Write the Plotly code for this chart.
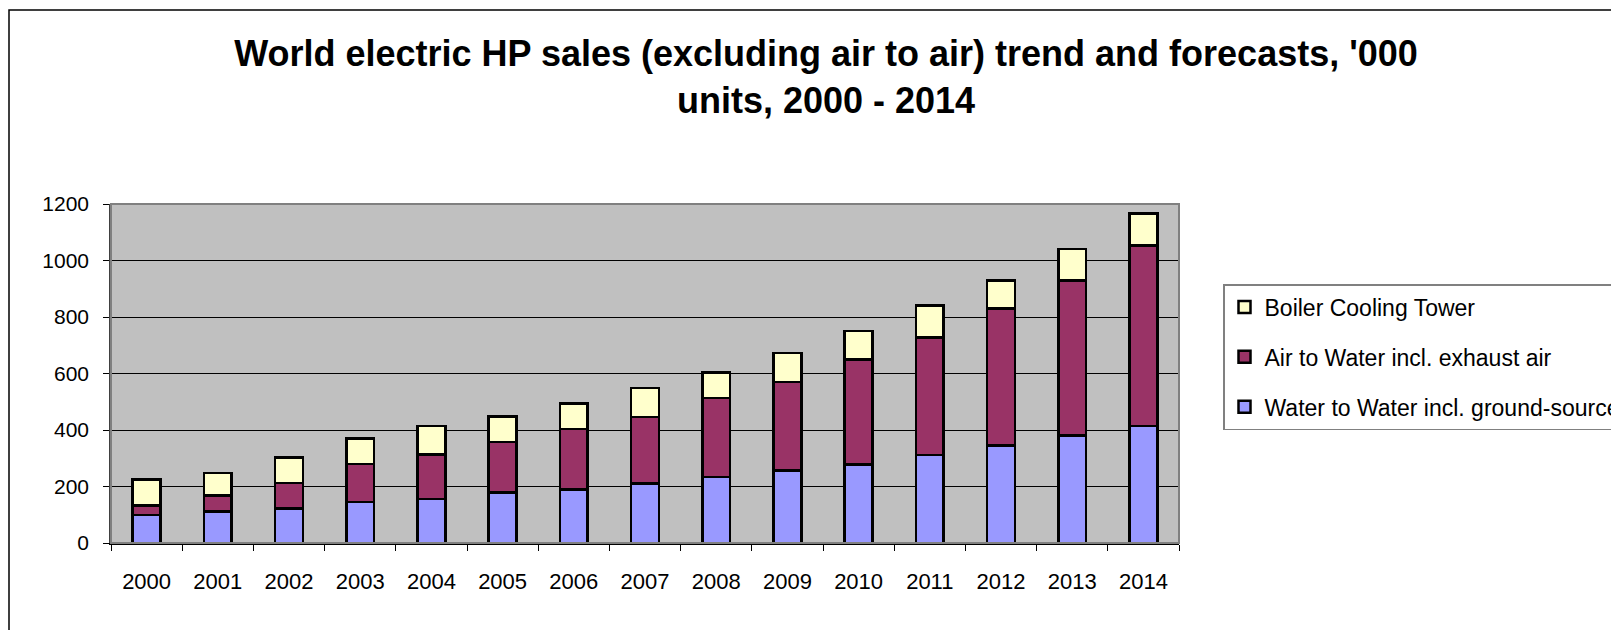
import plotly.graph_objects as go

years = [str(y) for y in range(2000, 2015)]

# '000 units
water_to_water = [100, 112, 122, 145, 156, 179, 189, 210, 234, 256, 278, 312, 346, 380, 414]
air_to_water = [32, 56, 90, 135, 157, 179, 215, 236, 279, 314, 371, 416, 484, 550, 639]
boiler_cooling = [92, 79, 91, 90, 101, 90, 89, 102, 91, 103, 101, 112, 100, 111, 113]

series = [
    ('Water to Water incl. ground-source', water_to_water, '#9999FF'),
    ('Air to Water incl. exhaust air', air_to_water, '#993366'),
    ('Boiler Cooling Tower', boiler_cooling, '#FFFFCC'),
]

W, H = 1619, 630
OFF = 8  # the page body adds an 8px margin around the figure
# plot area in figure pixels
left, right, top, bottom = 111 - OFF, 1179 - OFF, 204 - OFF, 543 - OFF
pw, ph = right - left, bottom - top

fig = go.Figure()
for i, (name, vals, color) in enumerate(series):
    fig.add_trace(go.Bar(
        x=years, y=vals, name=name, legendgroup=name,
        legendrank=len(series) - i,  # top of the stack first in the legend
        marker=dict(color=color, line=dict(color='black', width=2.5))
    ))

font = 'Arial, "Liberation Sans", sans-serif'

fig.update_layout(
    width=W, height=H,
    barmode='stack', bargap=0.61,
    paper_bgcolor='white', plot_bgcolor='#C0C0C0',
    margin=dict(l=left, r=W - right, t=top, b=H - bottom, autoexpand=False),
    font=dict(family=font, size=21, color='black'),
    title=dict(
        text="World electric HP sales (excluding air to air) trend and forecasts, '000<br>units, 2000 - 2014",
        x=(826 - OFF) / W, xref='container', xanchor='center',
        y=1 - 58 / H, yref='container', yanchor='middle',
        font=dict(family=font, size=36, color='black', weight='bold')
    ),
    legend=dict(
        x=(1223 - OFF - left) / pw, xanchor='left',
        y=(bottom - (284 - OFF)) / ph, yanchor='top',
        traceorder='grouped', tracegroupgap=17,
        bgcolor='white', bordercolor='#808080', borderwidth=1.5,
        font=dict(family=font, size=23, color='black')
    ),
    xaxis=dict(
        showgrid=False, showline=True, linecolor='black', linewidth=1.5,
        ticks='outside', tickson='boundaries', ticklen=6, tickcolor='black',
        ticklabelstandoff=18, tickfont=dict(size=22)
    ),
    yaxis=dict(
        range=[0, 1200], dtick=200, showgrid=True, gridcolor='black', gridwidth=1,
        showline=True, linecolor='#404040', linewidth=1.5,
        ticks='outside', ticklen=6, tickcolor='black', ticklabelstandoff=10,
        zeroline=False
    ),
    shapes=[
        # plot area frame
        dict(type='rect', xref='paper', yref='paper', x0=0, x1=1, y0=0, y1=1,
             line=dict(color='#808080', width=2)),
        # outer chart border, running off the right and bottom edges
        dict(type='rect', xref='paper', yref='paper',
             x0=(9 - OFF - left) / pw, x1=(W + 20 - left) / pw,
             y0=(bottom - H - 20) / ph, y1=(bottom - (10 - OFF)) / ph,
             line=dict(color='black', width=1.5)),
    ],
)

fig.write_html("out.html")
